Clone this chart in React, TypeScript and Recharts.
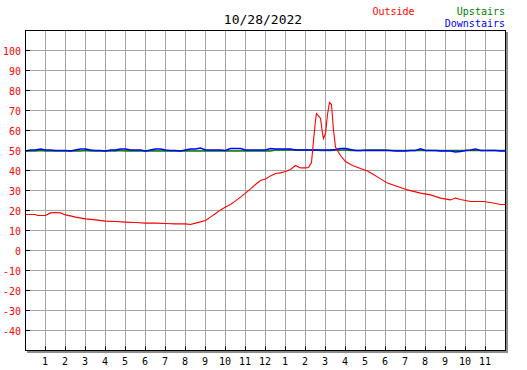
import React from "react";
import { LineChart, Line, XAxis, YAxis, CartesianGrid, ReferenceArea } from "recharts";

// ---- data ----
const chartTitle = "10/28/2022";
const seriesNames = ["Outside", "Upstairs", "Downstairs"];

const outsideHours = [
  0, 0.5, 0.6, 1.0, 1.25, 1.5, 1.75, 2.0, 2.25, 2.5,
  3.0, 3.5, 4.0, 4.5, 5.0, 5.5, 6.0, 6.5, 7.0, 7.5,
  8.0, 8.25, 8.5, 8.75, 9.0, 9.25, 9.5, 9.75, 10.0, 10.25,
  10.5, 10.75, 11.0, 11.25, 11.5, 11.75, 12.0, 12.25, 12.5, 12.75,
  13.0, 13.25, 13.5, 13.75, 14.0, 14.15, 14.3, 14.4, 14.5, 14.55,
  14.75, 14.85, 14.9, 15.0, 15.1, 15.2, 15.3, 15.4, 15.5, 15.6,
  15.75, 16.0, 16.35, 16.75, 17.1, 17.4, 17.75, 18.1, 18.6, 19.1,
  19.75, 20.25, 20.75, 21.25, 21.5, 21.75, 22.25, 22.9, 23.25, 23.75,
  24,
];
const outsideTemps = [
  18, 18, 17.5, 17.5, 18.8, 19, 18.8, 17.8, 17.3, 16.7,
  15.8, 15.3, 14.7, 14.5, 14.2, 14, 13.7, 13.7, 13.5, 13.3,
  13.3, 13, 13.7, 14.3, 15, 16.7, 18.5, 20.3, 21.7, 23,
  24.8, 26.7, 28.7, 30.8, 33, 35, 35.8, 37.3, 38.5, 38.8,
  39.5, 40.5, 42.5, 41.3, 41.3, 41.5, 44, 55, 65, 68.5,
  66, 58.5, 56, 58.5, 68, 74, 73, 60, 51.7, 50,
  47.5, 44.5, 42.5, 41, 39.7, 38, 35.8, 33.7, 32, 30.3,
  28.7, 27.8, 26.2, 25.3, 26.2, 25.5, 24.5, 24.5, 24, 23,
  23,
];

// indoor readings, one every quarter hour from 0:00 to 24:00
const upstairsTemps = [
  49.8, 49.8, 49.8, 50, 49.8, 49.8, 49.8, 49.8, 49.8, 49.8,
  49.8, 49.8, 50, 49.8, 49.8, 49.8, 49.8, 49.8, 49.8, 50,
  49.8, 49.8, 49.8, 49.8, 49.8, 49.8, 49.8, 49.8, 49.8, 49.8,
  49.8, 49.8, 49.8, 49.8, 49.8, 49.8, 49.8, 49.8, 49.8, 49.8,
  49.8, 49.8, 49.8, 49.8, 49.8, 49.8, 49.8, 49.8, 49.8, 49.8,
  50.2, 50.2, 50.2, 50.2, 50.2, 50.2, 50.2, 50.2, 50.2, 50,
  50, 50, 50.2, 50.2, 50.2, 50, 50, 50, 50.3, 50.3,
  50.3, 50.3, 50.3, 50, 50, 50, 50, 50, 50, 50,
  50, 50, 50, 50, 50, 50, 50, 50, 50, 50,
  50, 50, 50, 50, 50, 50, 50,
];
const downstairsTemps = [
  49.8, 50.3, 50.3, 50.8, 50.3, 50.3, 50, 50, 50, 49.7,
  50.3, 50.8, 50.8, 50.3, 50, 50, 49.7, 50.3, 50.3, 50.8,
  50.8, 50.3, 50.3, 50.3, 49.7, 50.3, 50.8, 50.8, 50.3, 50,
  50, 49.7, 50.3, 50.8, 50.8, 51.2, 50.3, 50.3, 50.3, 50.3,
  50, 51, 51, 51, 50.3, 50.3, 50.3, 50.3, 50.3, 51,
  50.8, 50.8, 50.8, 50.8, 50.3, 50.2, 50.2, 50.2, 50.2, 50.2,
  50.2, 50.2, 50.5, 51, 51, 50.5, 50, 50, 50, 50,
  50, 50, 50, 50, 49.7, 49.7, 49.7, 50, 50, 50.8,
  50, 50, 50, 49.7, 49.7, 49.7, 49.3, 49.5, 50, 50.3,
  50.8, 50, 50, 50, 50, 49.8, 49.8,
];

const hourTicks = [1, 2, 3, 4, 5, 6, 7, 8, 9, 10, 11, 12, 13, 14, 15, 16, 17, 18, 19, 20, 21, 22, 23];
const tempTicks = [-40, -30, -20, -10, 0, 10, 20, 30, 40, 50, 60, 70, 80, 90, 100];
const hourDomain = [0, 24];
const tempDomain = [-50, 110];

// ---- build series tables ----
const outsideData = outsideHours.map((h, i) => ({ h, v: outsideTemps[i] }));
const upstairsData = upstairsTemps.map((v, i) => ({ h: i / 4, v }));
const downstairsData = downstairsTemps.map((v, i) => ({ h: i / 4, v }));

const FONT = "'DejaVu Sans Mono', 'Liberation Mono', monospace";

const hourLabel = (h: number) => String(h <= 12 ? h : h - 12);

const XTick = (props: any) => {
  const { x, y, payload } = props;
  return (
    <g>
      <line x1={x} y1={y} x2={x} y2={y - 4} stroke="#000" strokeWidth={1} />
      <text x={x - 0.5} y={y + 14.5} textAnchor="middle" fontFamily={FONT} fontSize={10} fill="#000">
        {hourLabel(payload.value)}
      </text>
    </g>
  );
};

const YTick = (props: any) => {
  const { x, y, payload } = props;
  return (
    <g>
      <line x1={x} y1={y} x2={x + 4.5} y2={y} stroke="#000" strokeWidth={1} />
      <text x={x - 4.5} y={y + 4.5} textAnchor="end" fontFamily={FONT} fontSize={10} fill="#ff0000">
        {String(payload.value)}
      </text>
    </g>
  );
};

const FrameShape = (props: any) => {
  const { x, y, width, height } = props;
  return (
    <g>
      <rect x={x + width + 0.5} y={y + 1.5} width={2} height={height} fill="#8c8c8c" />
      <rect x={x + 1.5} y={y + height + 0.5} width={width + 1} height={2} fill="#8c8c8c" />
      <rect x={x} y={y} width={width} height={height} fill="none" stroke="#000" strokeWidth={1} />
    </g>
  );
};

export default function App() {
  return (
    <div style={{ position: "absolute", left: 0, top: 0, width: 527, height: 370, background: "#fff" }}>
      <LineChart
        width={527}
        height={370}
        margin={{ top: 30.5, right: 21.5, bottom: 0, left: 0 }}
      >
        <CartesianGrid stroke="#a4a4a4" strokeWidth={1} />
        <XAxis
          dataKey="h"
          type="number"
          domain={hourDomain}
          ticks={hourTicks}
          interval={0}
          height={19.5}
          axisLine={false}
          tickLine={false}
          tickSize={0}
          tickMargin={0}
          tick={<XTick />}
          allowDuplicatedCategory={false}
        />
        <YAxis
          type="number"
          domain={tempDomain}
          ticks={tempTicks}
          interval={0}
          width={25.5}
          axisLine={false}
          tickLine={false}
          tickSize={0}
          tickMargin={0}
          tick={<YTick />}
        />
        <Line data={upstairsData} dataKey="v" stroke="#008000" strokeWidth={1.5} dot={false} isAnimationActive={false} />
        <Line data={downstairsData} dataKey="v" stroke="#0000ff" strokeWidth={1.5} dot={false} isAnimationActive={false} />
        <Line data={outsideData} dataKey="v" stroke="#ff0000" strokeWidth={1.1} dot={false} isAnimationActive={false} />
        <ReferenceArea
          x1={hourDomain[0]}
          x2={hourDomain[1]}
          y1={tempDomain[0]}
          y2={tempDomain[1]}
          shape={<FrameShape />}
        />
      </LineChart>
      <svg
        width={527}
        height={370}
        style={{ position: "absolute", left: 0, top: 0, pointerEvents: "none" }}
      >
        <text x={263} y={24} textAnchor="middle" fontFamily={FONT} fontSize={13} fill="#000">
          {chartTitle}
        </text>
        <text x={372.5} y={15} textAnchor="start" fontFamily={FONT} fontSize={10} fill="#ff0000">
          {seriesNames[0]}
        </text>
        <text x={505} y={15} textAnchor="end" fontFamily={FONT} fontSize={10} fill="#008000">
          {seriesNames[1]}
        </text>
        <text x={505} y={27} textAnchor="end" fontFamily={FONT} fontSize={10} fill="#0000ff">
          {seriesNames[2]}
        </text>
      </svg>
    </div>
  );
}
